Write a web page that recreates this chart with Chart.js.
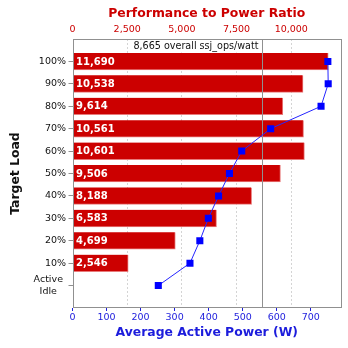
<!DOCTYPE html>
<html>
<head>
<meta charset="utf-8">
<script src="https://cdn.jsdelivr.net/npm/chart.js@4/dist/chart.umd.min.js"></script>
<style>
  html, body { margin: 0; padding: 0; background: #fff; }
  canvas { display: block; }
</style>
</head>
<body>
<canvas id="myChart" width="348" height="348"></canvas>
<script>
// target loads, top to bottom (trailing spaces centre the two-line label)
const loads = ['100%', '90%', '80%', '70%', '60%', '50%', '40%', '30%', '20%', '10%', ['Active ', 'Idle   ']];
// performance to power ratio (ssj_ops/watt), Active Idle has none
const ratios = [11690, 10538, 9614, 10561, 10601, 9506, 8188, 6583, 4699, 2546, null];
// average active power (W)
const power = [750, 751, 730, 582, 497, 461, 429, 399, 374, 345, 252];
const overall = 8665;
// tick labels
const ratioTicks = [0, 2500, 5000, 7500, 10000];
const powerTicks = [0, 100, 200, 300, 400, 500, 600, 700];

const FONT = 'DejaVu Sans';
const RED = '#cc0000';
const BLUE = '#1c1cdc';
const FRAME = '#909090';

// empty slot above and below so the loads sit one step in from the frame
const labels = [''].concat(loads, ['']);
const barData = [null].concat(ratios, [null]);
const lineData = [null].concat(power, [null]);

const extras = {
    id: 'extras',
    afterDatasetDraw(chart, args) {
        if (args.index !== 0) return;
        const ctx = chart.ctx;
        const area = chart.chartArea;
        const x2 = chart.scales.x2;

        // value labels inside the bars
        ctx.save();
        ctx.font = 'bold 10px "' + FONT + '"';
        ctx.fillStyle = '#fff';
        ctx.textBaseline = 'middle';
        ctx.textAlign = 'left';
        args.meta.data.forEach(function (bar, i) {
            const v = barData[i];
            if (v == null) return;
            ctx.fillText(v.toLocaleString('en-US'), area.left + 3.5, bar.y + 0.5);
        });

        // overall ssj_ops/watt line and its label
        const lx = Math.round(x2.getPixelForValue(overall)) + 0.5;
        const text = overall.toLocaleString('en-US') + ' overall ssj_ops/watt';
        ctx.font = '9.6px "' + FONT + '"';
        const w = ctx.measureText(text).width;
        ctx.fillStyle = '#fff';
        ctx.fillRect(lx - w - 8, area.top + 0.5, w + 8, 13);
        ctx.strokeStyle = FRAME;
        ctx.lineWidth = 1;
        ctx.beginPath();
        ctx.moveTo(lx, area.top);
        ctx.lineTo(lx, area.bottom);
        ctx.stroke();
        ctx.fillStyle = '#111';
        ctx.textAlign = 'right';
        ctx.fillText(text, lx - 4, area.top + 7.5);
        ctx.restore();
    },
    afterDraw(chart) {
        const ctx = chart.ctx;
        const a = chart.chartArea;
        ctx.save();
        ctx.strokeStyle = FRAME;
        ctx.lineWidth = 1;
        ctx.strokeRect(Math.round(a.left) + 0.5, Math.round(a.top) + 0.5,
            Math.round(a.right - a.left) - 1, Math.round(a.bottom - a.top) - 1);
        ctx.restore();
    }
};

function fixedTicks(values) {
    return function (scale) {
        scale.ticks = values.map(function (v) { return {value: v}; });
    };
}

function drawChart() {
    const config = {
        type: 'bar',
        data: {
            labels: labels,
            datasets: [{
                type: 'bar',
                data: barData,
                xAxisID: 'x2',
                yAxisID: 'y',
                backgroundColor: RED,
                borderColor: '#e87a7a',
                borderWidth: {top: 0, right: 1, bottom: 1, left: 0},
                borderSkipped: false,
                barThickness: 17,
                order: 1
            }, {
                type: 'line',
                indexAxis: 'y',
                data: lineData,
                xAxisID: 'x',
                yAxisID: 'y',
                borderColor: '#2525ff',
                borderWidth: 1,
                pointStyle: 'rect',
                pointRadius: 5,
                pointBorderWidth: 0,
                pointBackgroundColor: '#0000ff',
                order: 0
            }]
        },
        options: {
            indexAxis: 'y',
            responsive: false,
            animation: false,
            layout: {padding: {left: 0, right: 7, top: 0, bottom: 0}},
            plugins: {legend: {display: false}, tooltip: {enabled: false}},
            scales: {
                y: {
                    type: 'category',
                    offset: false,
                    afterFit: function (s) { s.width = 72.5; },
                    border: {display: false},
                    grid: {
                        offset: false,
                        drawOnChartArea: false,
                        tickLength: 4,
                        tickColor: function (c) {
                            return (c.index === 0 || c.index === labels.length - 1) ? 'rgba(0,0,0,0)' : FRAME;
                        }
                    },
                    ticks: {
                        autoSkip: false,
                        padding: 2.5,
                        color: '#111',
                        font: {family: FONT, size: 9.5}
                    },
                    title: {
                        display: true,
                        text: 'Target Load',
                        color: '#111',
                        padding: {top: 8.3, bottom: 0},
                        font: {family: FONT, size: 12.4, weight: 'bold'}
                    }
                },
                x2: {
                    type: 'linear',
                    position: 'top',
                    min: 0,
                    max: 12274.5,
                    afterFit: function (s) { s.height = 39; },
                    afterBuildTicks: fixedTicks(ratioTicks),
                    border: {display: false, dash: [2, 2]},
                    grid: {
                        color: function (c) { return c.index === 0 ? 'rgba(0,0,0,0)' : '#d4d4d4'; },
                        drawTicks: false
                    },
                    ticks: {
                        padding: 4,
                        color: RED,
                        font: {family: FONT, size: 9.5},
                        callback: function (v) { return v.toLocaleString('en-US'); }
                    },
                    title: {
                        display: true,
                        text: 'Performance to Power Ratio',
                        color: RED,
                        padding: {top: 6.3, bottom: 0},
                        font: {family: FONT, size: 12.4, weight: 'bold'}
                    }
                },
                x: {
                    type: 'linear',
                    position: 'bottom',
                    min: 0,
                    max: 788.6,
                    afterFit: function (s) { s.height = 40; },
                    afterBuildTicks: fixedTicks(powerTicks),
                    border: {display: false},
                    grid: {
                        drawOnChartArea: false,
                        tickLength: 3,
                        tickColor: BLUE
                    },
                    ticks: {
                        padding: 1,
                        color: BLUE,
                        font: {family: FONT, size: 9.5}
                    },
                    title: {
                        display: true,
                        text: 'Average Active Power (W)',
                        color: BLUE,
                        padding: {top: 0, bottom: 7.3},
                        font: {family: FONT, size: 12.4, weight: 'bold'}
                    }
                }
            }
        },
        plugins: [extras]
    };

    const myChart = new Chart(document.getElementById('myChart'), config);
}

window.onload = drawChart;
</script>
</body>
</html>
